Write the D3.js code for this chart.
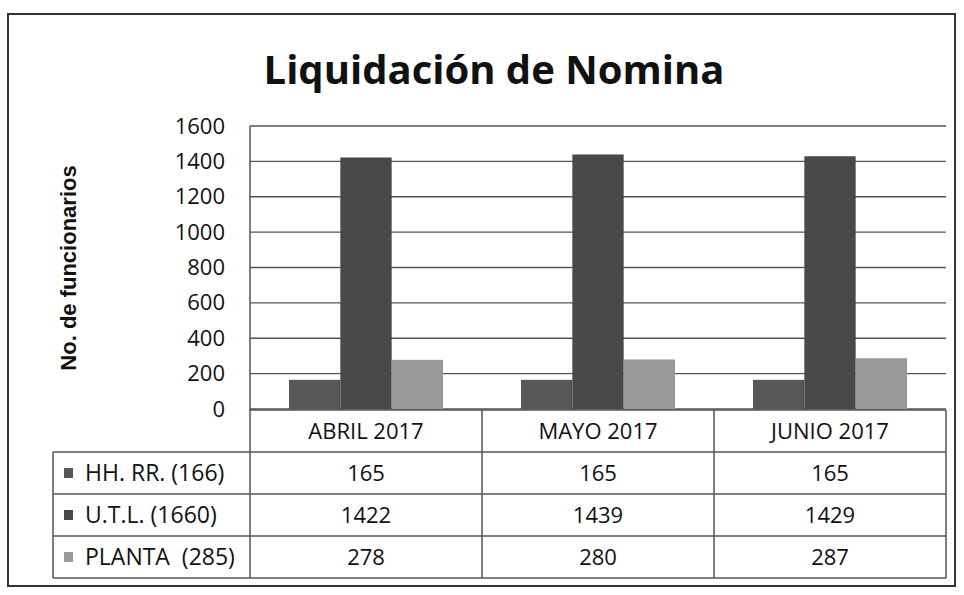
<!DOCTYPE html>
<html>
<head>
<meta charset="utf-8">
<script src="https://cdn.jsdelivr.net/npm/d3@7"></script>
<style>
  body { margin: 0; background: #fff; }
  text { font-family: "Open Sans", sans-serif; fill: #111; font-weight: 500; }
</style>
</head>
<body>
<div id="chart"></div>
<script>
// data
let categories = ["ABRIL 2017", "MAYO 2017", "JUNIO 2017"];
let seriesNames = ["HH. RR. (166)", "U.T.L. (1660)", "PLANTA  (285)"];
let hhValues = [165, 165, 165];
let utlValues = [1422, 1439, 1429];
let plantaValues = [278, 280, 287];
let yTicks = [0, 200, 400, 600, 800, 1000, 1200, 1400, 1600];

let seriesValues = [hhValues, utlValues, plantaValues];
let colors = ["#575757", "#494949", "#999999"];

let width = 964, height = 595;
let plot = {left: 250, right: 946, top: 126, bottom: 410};
let rowH = 42;

let svg = d3.select("#chart")
  .append("svg")
    .attr("width", width)
    .attr("height", height);

svg.append("rect")
  .attr("width", width).attr("height", height)
  .attr("fill", "#fff");

// outer frame
svg.append("rect")
  .attr("x", 8).attr("y", 14)
  .attr("width", 947).attr("height", 572)
  .attr("fill", "none")
  .attr("stroke", "#333")
  .attr("stroke-width", 2);

// title
svg.append("text")
  .attr("x", 494).attr("y", 84)
  .attr("text-anchor", "middle")
  .style("font-size", "40px")
  .style("font-weight", "bold")
  .text("Liquidación de Nomina");

let x0 = d3.scaleBand()
  .domain(categories)
  .range([plot.left, plot.right]);

let x1 = d3.scaleBand()
  .domain(seriesNames)
  .range([0, x0.bandwidth()])
  .paddingOuter(0.76);

let y = d3.scaleLinear()
  .domain([0, 1600])
  .range([plot.bottom - 1, plot.top]);

// gridlines
svg.append("g")
  .selectAll("line")
  .data(yTicks)
  .enter().append("line")
    .attr("x1", plot.left).attr("x2", plot.right)
    .attr("y1", d => y(d)).attr("y2", d => y(d))
    .attr("stroke", "#555")
    .attr("stroke-width", 1.3);

// y axis labels
let yAxis = svg.append("g")
  .attr("transform", "translate(" + plot.left + ",0)")
  .call(d3.axisLeft(y).tickValues(yTicks).tickFormat(d3.format("d")).tickSize(0).tickPadding(25));
yAxis.select(".domain").remove();
yAxis.selectAll("text")
  .style("font-family", "Open Sans, sans-serif")
  .style("font-size", "22px")
  .style("font-weight", "500")
  .attr("fill", "#111");

// y axis title
svg.append("text")
  .attr("transform", "translate(76,268) rotate(-90)")
  .attr("text-anchor", "middle")
  .style("font-family", "Liberation Sans, Arial, sans-serif")
  .style("font-size", "22px")
  .style("font-weight", "bold")
  .text("No. de funcionarios");

// bars
let groups = svg.append("g")
  .selectAll("g")
  .data(categories)
  .enter().append("g")
    .attr("transform", d => "translate(" + x0(d) + ",0)");

groups.selectAll("rect")
  .data((c, ci) => seriesNames.map((s, si) => ({series: s, value: seriesValues[si][ci], i: si})))
  .enter().append("rect")
    .attr("x", d => x1(d.series))
    .attr("y", d => y(d.value))
    .attr("width", x1.bandwidth())
    .attr("height", d => y(0) - y(d.value))
    .attr("fill", d => colors[d.i]);

// data table
let table = svg.append("g");
let tableBottom = plot.bottom + rowH * 4;
let tableLeft = 53;
let lineColor = "#555";

// horizontal lines
table.append("line")
  .attr("x1", plot.left).attr("x2", plot.right)
  .attr("y1", plot.bottom).attr("y2", plot.bottom)
  .attr("stroke", lineColor).attr("stroke-width", 1.5);
d3.range(1, 5).forEach(r => {
  table.append("line")
    .attr("x1", tableLeft).attr("x2", plot.right)
    .attr("y1", plot.bottom + r * rowH).attr("y2", plot.bottom + r * rowH)
    .attr("stroke", lineColor).attr("stroke-width", 1.5);
});

// vertical lines
table.append("line")
  .attr("x1", tableLeft).attr("x2", tableLeft)
  .attr("y1", plot.bottom + rowH).attr("y2", tableBottom)
  .attr("stroke", lineColor).attr("stroke-width", 1.5);
[plot.left].concat(categories.map(c => x0(c) + x0.bandwidth())).forEach(xv => {
  table.append("line")
    .attr("x1", xv).attr("x2", xv)
    .attr("y1", xv === plot.left ? plot.top : plot.bottom).attr("y2", tableBottom)
    .attr("stroke", lineColor).attr("stroke-width", 1.5);
});

// header labels
table.selectAll(".cat")
  .data(categories)
  .enter().append("text")
    .attr("class", "cat")
    .attr("x", d => x0(d) + x0.bandwidth() / 2)
    .attr("y", plot.bottom + rowH / 2)
    .attr("dy", "0.35em")
    .attr("text-anchor", "middle")
    .style("font-size", "22px")
    .text(d => d);

// legend rows
let rows = table.selectAll(".row")
  .data(seriesNames)
  .enter().append("g")
    .attr("class", "row")
    .attr("transform", (d, i) => "translate(0," + (plot.bottom + rowH * (i + 1)) + ")");

rows.append("rect")
  .attr("x", 64).attr("y", rowH / 2 - 5)
  .attr("width", 9).attr("height", 10)
  .attr("fill", (d, i) => colors[i]);

rows.append("text")
  .attr("x", 85)
  .attr("y", rowH / 2)
  .attr("dy", "0.35em")
  .style("font-size", "23px")
  .style("white-space", "pre")
  .text(d => d);

rows.selectAll(".val")
  .data((d, i) => seriesValues[i])
  .enter().append("text")
    .attr("class", "val")
    .attr("x", (d, ci) => x0(categories[ci]) + x0.bandwidth() / 2)
    .attr("y", rowH / 2)
    .attr("dy", "0.35em")
    .attr("text-anchor", "middle")
    .style("font-size", "22px")
    .text(d => d);
</script>
</body>
</html>
